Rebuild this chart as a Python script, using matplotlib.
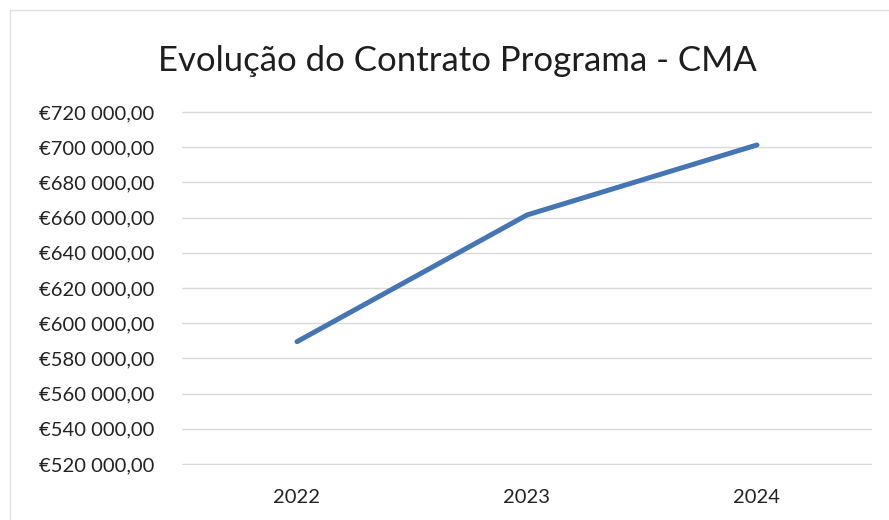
import matplotlib.pyplot as plt
from matplotlib.patches import Rectangle
from matplotlib.ticker import FuncFormatter

# Data
years = ['2022', '2023', '2024']
values = [589500, 661500, 701300]
y_ticks = list(range(520000, 720001, 20000))

plt.rcParams['font.family'] = ['Lato', 'DejaVu Sans']

fig = plt.figure(figsize=(8.89, 5.20), dpi=100)
ax = fig.add_axes([182 / 889, 1 - 465 / 520, 690 / 889, 354 / 520])

ax.plot(range(len(years)), values, color='#4675b3', linewidth=3.6,
        solid_capstyle='round', solid_joinstyle='round', zorder=3)

ax.set_xlim(-0.5, len(years) - 0.5)
ax.set_ylim(y_ticks[0] - 600, y_ticks[-1] + 600)
ax.set_yticks(y_ticks)
ax.set_xticks(range(len(years)))
ax.set_xticklabels(years)


def euro(v, pos):
    s = f'{int(v):,}'.replace(',', ' ')
    return f'€{s},00'


ax.yaxis.set_major_formatter(FuncFormatter(euro))
ax.grid(axis='y', color='#d9d9d9', linewidth=1)
ax.set_axisbelow(True)
for sp in ax.spines.values():
    sp.set_visible(False)
ax.tick_params(axis='both', length=0, labelsize=14.5, colors='#222222')
ax.tick_params(axis='y', pad=20)
ax.tick_params(axis='x', pad=17)

fig.text(457 / 889, 1 - 61 / 520, 'Evolução do Contrato Programa - CMA',
         ha='center', va='center', fontsize=25, color='#1e1e1e')

# faint chart border
fig.patches.append(Rectangle((10 / 889, -0.05), 1.2, 1 - 10 / 520 + 0.05,
                             transform=fig.transFigure, fill=False,
                             edgecolor='#e2e2e2', linewidth=1))

fig.savefig('out.png', dpi=100, facecolor='white')
